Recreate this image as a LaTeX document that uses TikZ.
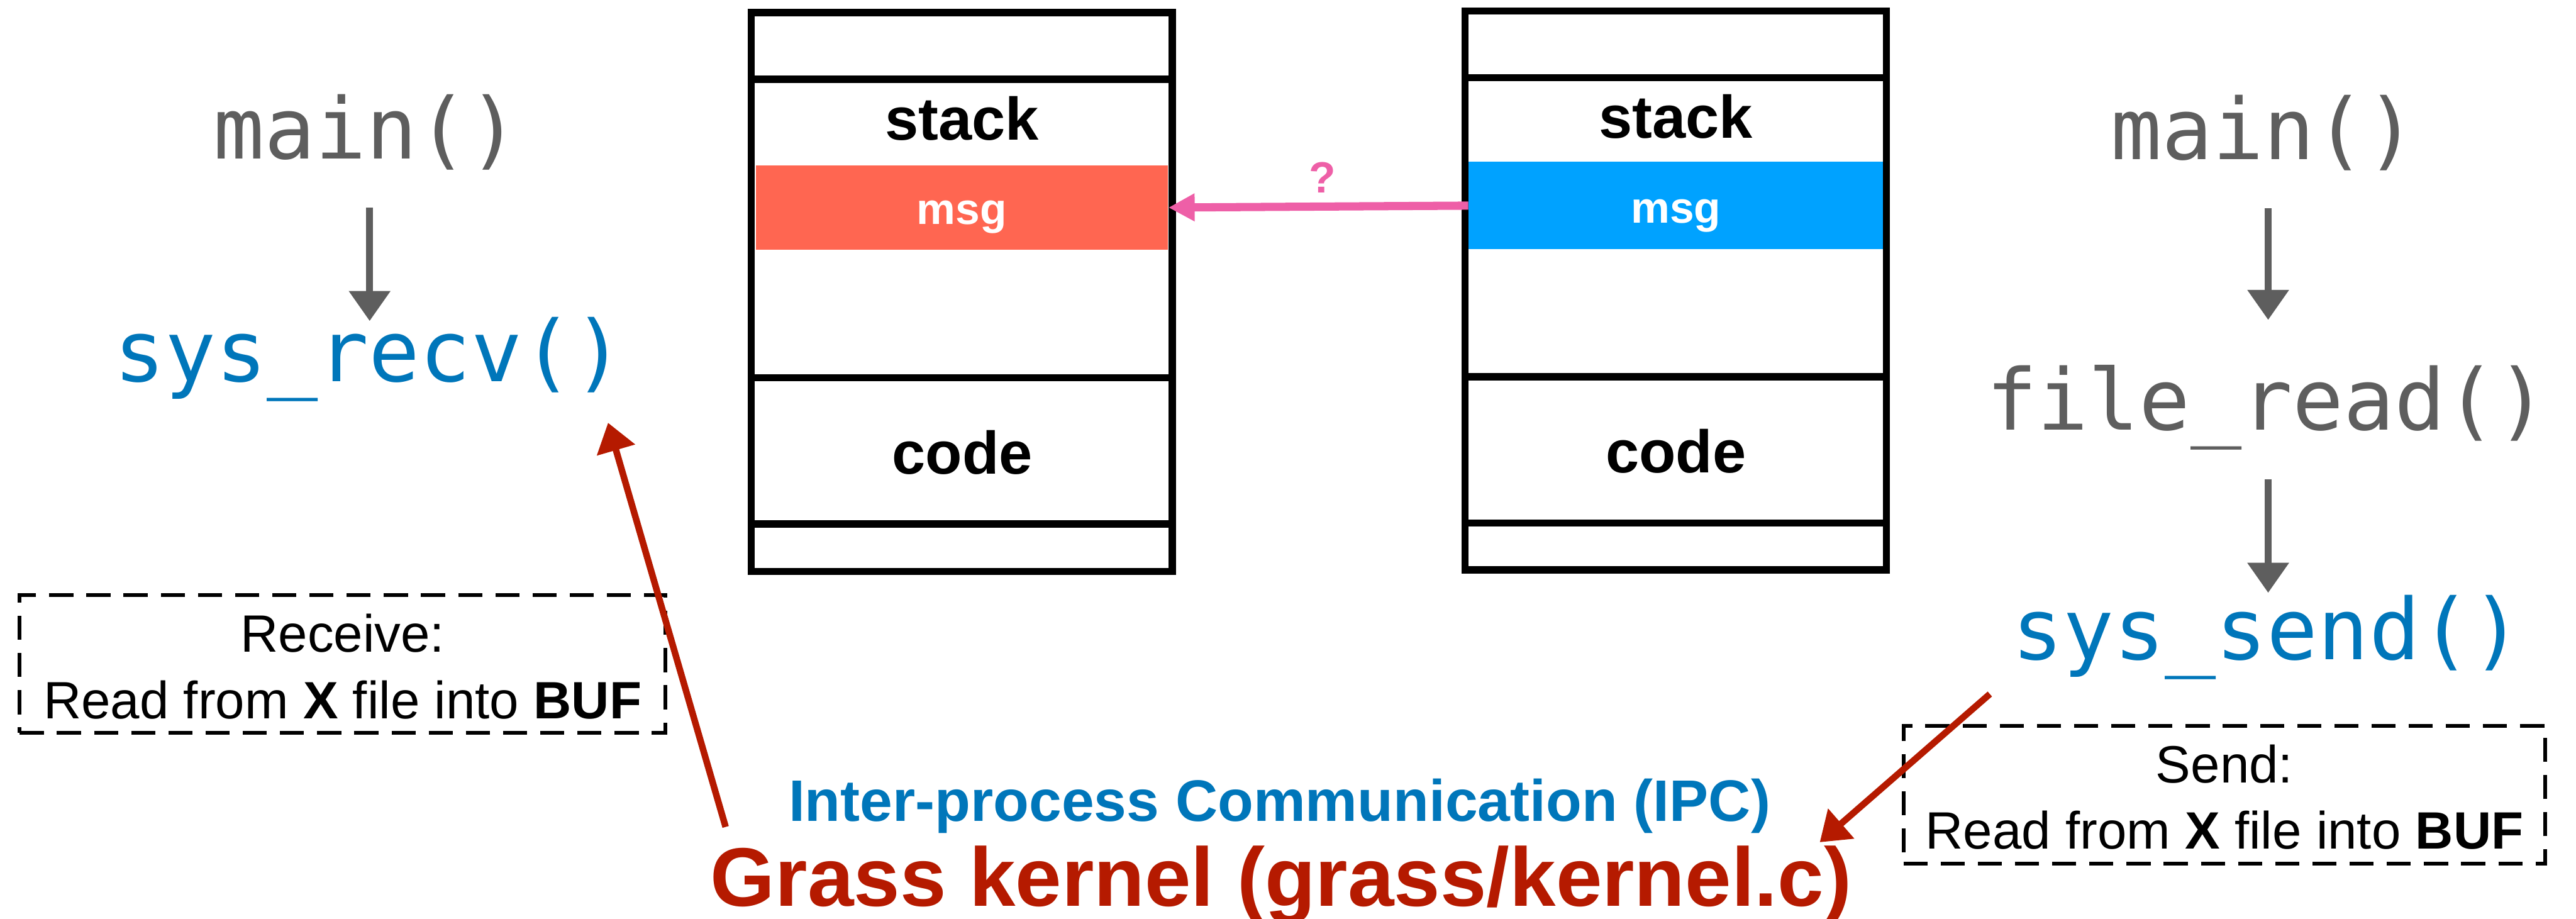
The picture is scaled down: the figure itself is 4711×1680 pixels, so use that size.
\documentclass[tikz,border=0pt]{standalone}
\usepackage{fontspec}
\setmainfont{Liberation Sans}
\setmonofont{DejaVu Sans Mono}
\usetikzlibrary{arrows.meta}
\definecolor{codegray}{HTML}{5E5E5E}
\definecolor{codeblue}{HTML}{0076BA}
\definecolor{kred}{HTML}{B51A00}
\definecolor{qpink}{HTML}{EE5FA7}
\definecolor{msgred}{HTML}{FF6651}
\definecolor{msgblue}{HTML}{00A2FF}
\begin{document}
\begin{tikzpicture}[x=0.25pt,y=-0.25pt,
  cell/.style={draw=black, line width=3.25pt, minimum width=192.5pt, inner sep=0pt, outer sep=0pt},
  seglbl/.style={font=\bfseries\fontsize{27.5}{33}\selectfont, anchor=base, inner sep=0pt},
  msgbox/.style={text=white, font=\bfseries\fontsize{20}{24}\selectfont, inner sep=0pt, text depth=0pt},
  mono/.style={font=\ttfamily\fontsize{38.75}{46}\selectfont, anchor=base, inner sep=0pt},
  grayarr/.style={draw=codegray, line width=3.25pt, -{Triangle[length=13.75pt,width=18.25pt]}},
  redarr/.style={draw=kred, line width=3pt, -{Triangle[length=13pt,width=17.5pt]}},
  pinkarr/.style={draw=qpink, line width=3.75pt, -{Triangle[length=12pt,width=12pt]}},
  dashbox/.style={draw=black, line width=1.75pt, dash pattern=on 11pt off 6pt, minimum height=63pt, inner sep=0pt},
  note/.style={font=\fontsize{24}{29}\selectfont, anchor=base, inner sep=0pt}
]
\useasboundingbox (0,0) rectangle (4711,1680);

% left memory box
\node[cell, minimum height=30.5pt] (L1) at (1759,84) {};
\node[cell, minimum height=136.5pt] (L2) at (1759,418) {};
\node[cell, minimum height=66.75pt] (L3) at (1759,824.5) {};
\node[cell, minimum height=21.75pt] (L4) at (1759,1001.5) {};
\node[msgbox, fill=msgred, minimum width=188.5pt, minimum height=38.75pt, text height=15.25pt] (msgL) at (1759,379.5) {msg};
\node[seglbl] (stackL) at (1759,256) {stack};
\node[seglbl] (codeL) at (1760,867) {code};

% right memory box
\node[cell, minimum height=30.5pt] (R1) at (3064.5,81) {};
\node[cell, minimum height=136.75pt] (R2) at (3064.5,415.5) {};
\node[cell, minimum height=66.75pt] (R3) at (3064.5,822.5) {};
\node[cell, minimum height=21.5pt] (R4) at (3064.5,999) {};
\node[msgbox, fill=msgblue, minimum width=189.5pt, minimum height=40pt, text height=16pt] (msgR) at (3065,376) {msg};
\node[seglbl] (stackR) at (3065,252) {stack};
\node[seglbl] (codeR) at (3065,864) {code};

% pink arrow
\draw[pinkarr] (msgR.west) -- (msgL.east);
\node[font=\bfseries\fontsize{20}{24}\selectfont, text=qpink, anchor=base, inner sep=0pt] (q) at (2419,353) {?};

% left call chain
\node[mono, text=codegray] (main1) at (670,290) {main()};
\node[mono, text=codeblue] (recv) at (675,697) {sys\_recv()};
\draw[grayarr] ([shift={(6,90)}]main1.base) -- ([shift={(1,-110)}]recv.base);

% right call chain
\node[mono, text=codegray] (main2) at (4140,291) {main()};
\node[mono, text=codegray] (fread) at (4146,786) {file\_read()};
\node[mono, text=codeblue] (send) at (4146,1206) {sys\_send()};
\draw[grayarr] ([shift={(8,90)}]main2.base) -- ([shift={(2,-201)}]fread.base);
\draw[grayarr] ([shift={(2,90)}]fread.base) -- ([shift={(2,-122)}]send.base);

% dashed notes
\node[dashbox, minimum width=295.25pt] (recvbox) at (626.5,1214) {};
\node[note] (recvt1) at (626.5,1192) {Receive:};
\node[note] (recvt2) at (626.5,1314) {Read from \textbf{X} file into \textbf{BUF}};
\node[dashbox, minimum width=293.5pt] (sendbox) at (4068,1453) {};
\node[note] (sendt1) at (4068,1431) {Send:};
\node[note] (sendt2) at (4068,1552) {Read from \textbf{X} file into \textbf{BUF}};

% kernel
\node[font=\bfseries\fontsize{26.75}{32}\selectfont, text=codeblue, anchor=base, inner sep=0pt] (ipc) at (2340,1502) {Inter-process Communication (IPC)};
\node[font=\bfseries\fontsize{38}{46}\selectfont, text=kred, anchor=base, inner sep=0pt] (kernel) at (2343,1657) {Grass kernel (grass/kernel.c)};

% red arrows
\draw[redarr] ([shift={(-1016,-145)}]kernel.base) -- ([shift={(437,76)}]recv.base);
\draw[redarr] ([shift={(-507,63)}]send.base) -- ([shift={(985,-117)}]kernel.base);
\end{tikzpicture}
\end{document}
